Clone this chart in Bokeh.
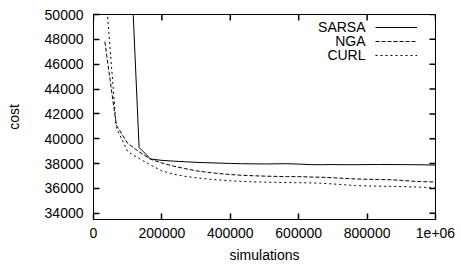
import math
from bokeh.plotting import figure
from bokeh.models import Range1d, FixedTicker, Legend, LegendItem, Label
from bokeh.embed import file_html
from bokeh.resources import INLINE

simulations = [33333, 66667, 100000, 133333, 166667, 200000, 233333, 266667, 300000,
               333333, 366667, 400000, 433333, 466667, 500000, 533333, 566667, 600000,
               633333, 666667, 700000, 733333, 766667, 800000, 833333, 866667, 900000,
               933333, 966667, 1000000]

sarsa = [80000, 70000, 60000, 39300, 38370, 38260, 38200, 38150, 38100,
         38070, 38040, 38010, 37990, 37980, 37970, 37980, 37990, 37960,
         37920, 37910, 37920, 37910, 37910, 37920, 37930, 37920, 37920,
         37910, 37900, 37880]

nga = [47800, 41100, 39630, 38950, 38350, 38050, 37800, 37600, 37420,
       37300, 37200, 37120, 37060, 37020, 36990, 36970, 36950, 36950,
       36920, 36900, 36860, 36810, 36760, 36740, 36720, 36700, 36650,
       36580, 36540, 36520]

curl = [52600, 40900, 38960, 38410, 37890, 37420, 37150, 36980, 36860,
        36760, 36680, 36620, 36570, 36530, 36510, 36490, 36470, 36460,
        36450, 36420, 36360, 36300, 36230, 36200, 36180, 36170, 36150,
        36120, 36100, 36020]

series_names = ["SARSA", "NGA", "CURL"]

x_ticks = [0, 200000, 400000, 600000, 800000, 1000000]
x_tick_labels = ["0", "200000", "400000", "600000", "800000", "1e+06"]
y_ticks = [34000, 36000, 38000, 40000, 42000, 44000, 46000, 48000, 50000]

X_MIN, X_MAX = 0, 1000000
Y_MIN, Y_MAX = 33500, 50000

FONT = "Liberation Sans"
FS = "14px"

p = figure(width=461, height=269, output_backend="svg", toolbar_location=None,
           x_range=Range1d(X_MIN, X_MAX), y_range=Range1d(Y_MIN, Y_MAX),
           min_border_left=93, min_border_right=26, min_border_top=14, min_border_bottom=50,
           x_axis_label="simulations", y_axis_label="cost")
p.xgrid.visible = False
p.ygrid.visible = False
p.outline_line_color = "black"
p.outline_line_width = 1
p.background_fill_color = "white"
p.border_fill_color = "white"

for ax in [p.xaxis[0], p.yaxis[0]]:
    ax.axis_line_color = "black"
    ax.major_tick_line_color = "black"
    ax.major_tick_line_width = 1.5
    ax.major_tick_in = 6
    ax.major_tick_out = 0
    ax.minor_tick_line_color = None
    ax.major_label_text_font = FONT
    ax.major_label_text_font_size = FS
    ax.major_label_text_color = "black"
    ax.axis_label_text_font = FONT
    ax.axis_label_text_font_size = FS
    ax.axis_label_text_font_style = "normal"
    ax.axis_label_text_color = "black"

p.xaxis[0].ticker = FixedTicker(ticks=x_ticks)
p.xaxis[0].major_label_overrides = {t: l for t, l in zip(x_ticks, x_tick_labels)}
p.xaxis[0].major_label_standoff = 8
p.xaxis[0].axis_label_standoff = 6
p.yaxis[0].ticker = FixedTicker(ticks=y_ticks)
p.yaxis[0].major_label_standoff = 10
p.yaxis[0].axis_label_standoff = 20

# mirror tick marks on top and right (dash markers, half clipped by the frame)
TICK = 12
p.scatter(x_ticks, [Y_MAX] * len(x_ticks), marker="dash", size=TICK, angle=math.pi / 2,
          line_color="black", line_width=1.5)
p.scatter([X_MAX] * len(y_ticks), y_ticks, marker="dash", size=TICK,
          line_color="black", line_width=1.5)

r1 = p.line(simulations, sarsa, line_color="black", line_width=1)
r2 = p.line(simulations, nga, line_color="black", line_width=1, line_dash="4 2")
r3 = p.line(simulations, curl, line_color="black", line_width=1, line_dash="2 3")

legend = Legend(items=[LegendItem(label=" ", renderers=[r]) for r in (r1, r2, r3)],
                location=(282, 157), padding=0, margin=0, spacing=0,
                glyph_width=42, glyph_height=14, label_height=14, label_width=0,
                label_standoff=0, label_text_font_size="6px",
                border_line_color=None, background_fill_alpha=0)
p.add_layout(legend, "center")

row_y = [192.5, 178.5, 164.5]
for name, yy in zip(series_names, row_y):
    p.add_layout(Label(x=272, y=yy, x_units="screen", y_units="screen", text=name,
                       text_align="right", text_baseline="middle",
                       text_font=FONT, text_font_size=FS, text_color="black"))

open("out.html", "w").write(file_html(p, INLINE))
